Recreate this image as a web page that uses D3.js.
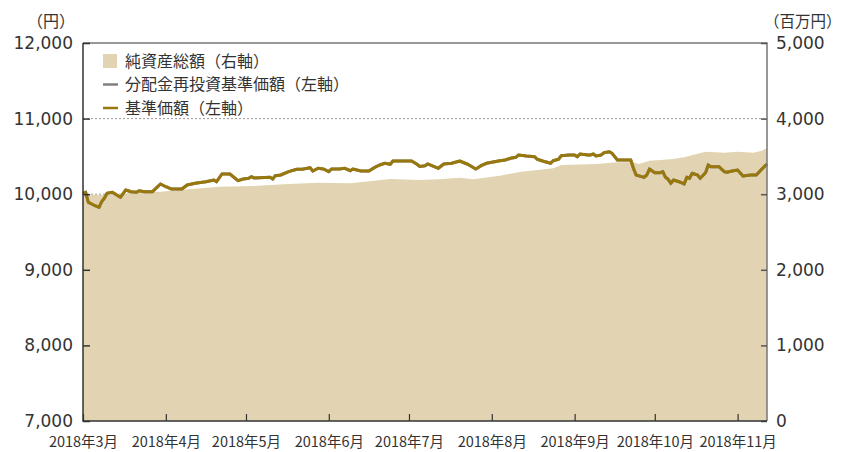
<!DOCTYPE html>
<html>
<head>
<meta charset="utf-8">
<script src="https://cdn.jsdelivr.net/npm/d3@7"></script>
<style>
  body { margin: 0; background: #fff; }
  text { fill: #333; }
  .cjk { font-family: "Noto Sans CJK JP", sans-serif; }
  .num { font-family: "DejaVu Sans", sans-serif; }
</style>
</head>
<body>
<script>
// chart size
const width = 845;
const height = 452;
const margin = { top: 43, right: 78, bottom: 31, left: 83 };

// 基準価額 (left axis, yen)
const navDates = [
  '2018-03-01','2018-03-02','2018-03-03','2018-03-05','2018-03-07','2018-03-08','2018-03-09','2018-03-10',
  '2018-03-12','2018-03-15','2018-03-17','2018-03-19','2018-03-21','2018-03-22','2018-03-24','2018-03-27',
  '2018-03-30','2018-04-01','2018-04-03','2018-04-05','2018-04-07','2018-04-09','2018-04-12','2018-04-16',
  '2018-04-19','2018-04-20','2018-04-22','2018-04-25','2018-04-28','2018-04-30','2018-05-02','2018-05-03',
  '2018-05-04','2018-05-10','2018-05-11','2018-05-12','2018-05-14','2018-05-17','2018-05-20','2018-05-22',
  '2018-05-25','2018-05-26','2018-05-28','2018-05-30','2018-06-01','2018-06-02','2018-06-05','2018-06-07',
  '2018-06-09','2018-06-10','2018-06-13','2018-06-16','2018-06-18','2018-06-20','2018-06-22','2018-06-24',
  '2018-06-25','2018-06-29','2018-07-02','2018-07-04','2018-07-05','2018-07-07','2018-07-08','2018-07-12',
  '2018-07-14','2018-07-17','2018-07-20','2018-07-23','2018-07-26','2018-07-28','2018-07-30','2018-08-02',
  '2018-08-04','2018-08-06','2018-08-08','2018-08-10','2018-08-11','2018-08-14','2018-08-17','2018-08-18',
  '2018-08-20','2018-08-23','2018-08-24','2018-08-26','2018-08-27','2018-08-30','2018-09-01','2018-09-02',
  '2018-09-03','2018-09-06','2018-09-07','2018-09-08','2018-09-09','2018-09-11','2018-09-12','2018-09-14',
  '2018-09-15','2018-09-17','2018-09-22','2018-09-23','2018-09-24','2018-09-26','2018-09-27','2018-09-28',
  '2018-09-29','2018-10-01','2018-10-03','2018-10-04','2018-10-05','2018-10-06','2018-10-07','2018-10-08',
  '2018-10-10','2018-10-12','2018-10-13','2018-10-14','2018-10-15','2018-10-17','2018-10-18','2018-10-20',
  '2018-10-21','2018-10-22','2018-10-25','2018-10-27','2018-10-28','2018-10-30','2018-11-01','2018-11-03',
  '2018-11-06','2018-11-08','2018-11-10','2018-11-12'
];
const navValues = [
  10010, 10025, 9893, 9857, 9827, 9901, 9946, 10012,
  10025, 9959, 10056, 10033, 10025, 10046, 10033, 10033,
  10135, 10099, 10069, 10069, 10069, 10122, 10144, 10165,
  10188, 10165, 10267, 10267, 10179, 10201, 10210, 10232,
  10215, 10224, 10201, 10245, 10254, 10298, 10330, 10330,
  10351, 10307, 10343, 10333, 10298, 10333, 10333, 10343,
  10311, 10333, 10307, 10307, 10351, 10386, 10409, 10396,
  10439, 10439, 10439, 10396, 10367, 10377, 10400, 10343,
  10400, 10409, 10439, 10396, 10333, 10377, 10409, 10430,
  10443, 10453, 10475, 10488, 10519, 10505, 10496, 10462,
  10439, 10409, 10443, 10462, 10509, 10519, 10519, 10496,
  10532, 10519, 10519, 10532, 10505, 10519, 10549, 10562,
  10541, 10453, 10453, 10343, 10254, 10232, 10224, 10254,
  10333, 10285, 10285, 10298, 10224, 10197, 10144, 10188,
  10165, 10135, 10224, 10210, 10277, 10254, 10210, 10285,
  10386, 10364, 10364, 10298, 10290, 10307, 10320, 10241,
  10254, 10254, 10330, 10400
];

// 純資産総額 (right axis, million yen)
const assetDates = [
  '2018-03-01','2018-03-10','2018-03-19','2018-03-30','2018-04-06','2018-04-21','2018-05-04','2018-05-15',
  '2018-05-28','2018-06-09','2018-06-17','2018-06-24','2018-07-05','2018-07-12','2018-07-20','2018-07-25',
  '2018-08-04','2018-08-09','2018-08-12','2018-08-24','2018-08-27','2018-09-09','2018-09-17','2018-09-23',
  '2018-09-25','2018-09-29','2018-10-07','2018-10-12','2018-10-20','2018-10-27','2018-11-01','2018-11-07',
  '2018-11-10','2018-11-12'
];
const assetValues = [
  3000, 2990, 3016, 3033, 3056, 3099, 3110, 3131,
  3152, 3144, 3175, 3201, 3188, 3197, 3218, 3197,
  3245, 3277, 3298, 3343, 3386, 3400, 3422, 3422,
  3400, 3443, 3462, 3488, 3562, 3549, 3562, 3549,
  3575, 3607
];

const leftTicks = [7000, 8000, 9000, 10000, 11000, 12000];
const rightTicks = [0, 1000, 2000, 3000, 4000, 5000];
const monthTicks = ['2018-03-01','2018-04-01','2018-05-01','2018-06-01','2018-07-01',
  '2018-08-01','2018-09-01','2018-10-01','2018-11-01'];
const legendLabels = ['純資産総額（右軸）', '分配金再投資基準価額（左軸）', '基準価額（左軸）'];

const parse = d3.timeParse('%Y-%m-%d');
const nav = navDates.map((d, i) => ({ date: parse(d), value: navValues[i] }));
const assets = assetDates.map((d, i) => ({ date: parse(d), value: assetValues[i] }));
const months = monthTicks.map(parse);

const areaColor = '#e2d4b2';
const lineColor = '#98780c';
const reinvestColor = '#808080';

const svg = d3.select('body').append('svg')
    .attr('width', width)
    .attr('height', height);

const x = d3.scaleTime()
    .domain([parse('2018-03-01'), parse('2018-11-12')])
    .range([margin.left, width - margin.right]);
const yLeft = d3.scaleLinear()
    .domain([7000, 12000])
    .range([height - margin.bottom, margin.top]);
const yRight = d3.scaleLinear()
    .domain([0, 5000])
    .range([height - margin.bottom, margin.top]);

// dotted grid
svg.append('g')
  .selectAll('line')
  .data(leftTicks.slice(1, -1))
  .enter().append('line')
    .attr('x1', margin.left).attr('x2', width - margin.right)
    .attr('y1', d => yLeft(d)).attr('y2', d => yLeft(d))
    .attr('stroke', '#999')
    .attr('stroke-dasharray', '2,2');

// net assets area
svg.append('path')
    .datum(assets)
    .attr('fill', areaColor)
    .attr('d', d3.area()
        .x(d => x(d.date))
        .y0(yRight(0))
        .y1(d => yRight(d.value)));

// 分配金再投資基準価額 sits under 基準価額 (no distributions)
const line = d3.line().x(d => x(d.date)).y(d => yLeft(d.value));
svg.append('path')
    .datum(nav)
    .attr('fill', 'none')
    .attr('stroke', reinvestColor)
    .attr('stroke-width', 3)
    .attr('d', line);
svg.append('path')
    .datum(nav)
    .attr('fill', 'none')
    .attr('stroke', lineColor)
    .attr('stroke-width', 3)
    .attr('stroke-linejoin', 'round')
    .attr('d', line);

// frame (top + right gray)
svg.append('path')
    .attr('fill', 'none')
    .attr('stroke', '#777')
    .attr('stroke-width', 1.5)
    .attr('d', `M${margin.left},${margin.top}H${width - margin.right}V${height - margin.bottom}`);

// left axis
const leftAxis = svg.append('g')
    .attr('transform', `translate(${margin.left},0)`)
    .call(d3.axisLeft(yLeft).tickValues(leftTicks).tickSize(-7).tickPadding(10)
        .tickFormat(d3.format(',')));
// right axis
const rightAxis = svg.append('g')
    .attr('transform', `translate(${width - margin.right},0)`)
    .call(d3.axisRight(yRight).tickValues(rightTicks).tickSize(-6).tickPadding(9)
        .tickFormat(d3.format(',')));
// bottom axis
const bottomAxis = svg.append('g')
    .attr('transform', `translate(0,${height - margin.bottom})`)
    .call(d3.axisBottom(x).tickValues(months).tickSize(-7).tickPadding(16)
        .tickFormat(d3.timeFormat('%Y年%-m月')));

[leftAxis, rightAxis].forEach(g => {
  g.select('.domain').remove();
  g.selectAll('.tick line').attr('stroke', '#333').attr('stroke-width', 1.5);
  g.selectAll('.tick text')
    .attr('class', 'num')
    .attr('font-size', 17)
    .attr('fill', '#333');
});
rightAxis.selectAll('.tick line').attr('stroke', '#555');
bottomAxis.select('.domain').remove();
bottomAxis.selectAll('.tick line').attr('stroke', '#333').attr('stroke-width', 1.2);
bottomAxis.selectAll('.tick text')
    .attr('class', 'cjk')
    .attr('font-size', 14.5)
    .attr('fill', '#333');

// axis lines left + bottom
svg.append('path')
    .attr('fill', 'none')
    .attr('stroke', '#333')
    .attr('stroke-width', 1.5)
    .attr('d', `M${margin.left},${margin.top}V${height - margin.bottom}H${width - margin.right}`);

// unit labels
svg.append('text')
    .attr('class', 'cjk')
    .attr('x', 27).attr('y', 27)
    .attr('font-size', 16)
    .text('（円）');
svg.append('text')
    .attr('class', 'cjk')
    .attr('x', 764).attr('y', 27)
    .attr('font-size', 15.5)
    .text('（百万円）');

// legend
const legend = svg.append('g')
    .attr('transform', 'translate(103,61)');
const rowGap = 23.5;
legend.append('rect')
    .attr('x', 0).attr('y', -7)
    .attr('width', 14).attr('height', 14)
    .attr('fill', areaColor);
legend.append('line')
    .attr('x1', 0).attr('x2', 15)
    .attr('y1', rowGap).attr('y2', rowGap)
    .attr('stroke', reinvestColor).attr('stroke-width', 2.5);
legend.append('line')
    .attr('x1', 0).attr('x2', 15)
    .attr('y1', rowGap * 2).attr('y2', rowGap * 2)
    .attr('stroke', lineColor).attr('stroke-width', 2.5);
legend.selectAll('.legend-label')
  .data(legendLabels)
  .enter().append('text')
    .attr('class', 'cjk legend-label')
    .attr('x', 22)
    .attr('y', (d, i) => i * rowGap)
    .attr('dy', '0.36em')
    .attr('font-size', 16)
    .text(d => d);
</script>
</body>
</html>
